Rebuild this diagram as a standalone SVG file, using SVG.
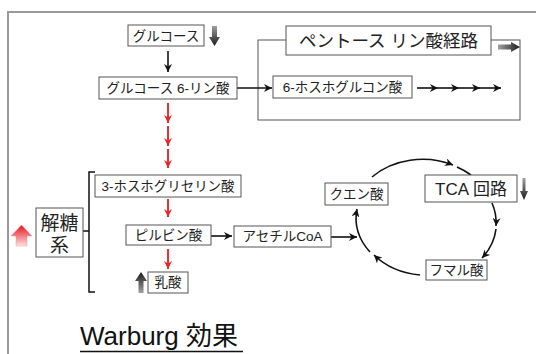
<svg xmlns="http://www.w3.org/2000/svg" width="536" height="354" viewBox="0 0 536 354">
<defs>
  <style>
    .box{fill:#fff;stroke:#555;stroke-width:1}
    .t{font-family:"Liberation Sans","Noto Sans CJK JP",sans-serif;font-size:13.5px;fill:#222;text-anchor:middle}
    .ln{fill:none;stroke:#111;stroke-width:1.6}
    .rd{fill:none;stroke:#e8262a;stroke-width:1.9}
  </style>
  <marker id="ab" viewBox="0 0 10 10" refX="10" refY="5" markerWidth="8" markerHeight="8" markerUnits="userSpaceOnUse" orient="auto">
    <path d="M0,0 L10,5 L0,10 L3,5 z" fill="#111"/>
  </marker>
  <marker id="ar" viewBox="0 0 10 10" refX="10" refY="5" markerWidth="8" markerHeight="8" markerUnits="userSpaceOnUse" orient="auto">
    <path d="M0,0 L10,5 L0,10 L3,5 z" fill="#e8262a"/>
  </marker>
  <linearGradient id="gDown" x1="0" y1="0" x2="0" y2="1">
    <stop offset="0" stop-color="#a0a0a0"/><stop offset="1" stop-color="#1a1a1a"/>
  </linearGradient>
  <linearGradient id="gUp" x1="0" y1="1" x2="0" y2="0">
    <stop offset="0" stop-color="#a0a0a0"/><stop offset="1" stop-color="#1a1a1a"/>
  </linearGradient>
  <linearGradient id="gRight" x1="0" y1="0" x2="1" y2="0">
    <stop offset="0" stop-color="#a0a0a0"/><stop offset="1" stop-color="#1a1a1a"/>
  </linearGradient>
  <linearGradient id="gRed" x1="0" y1="1" x2="0" y2="0">
    <stop offset="0" stop-color="#fde0e0"/><stop offset="1" stop-color="#e8101a"/>
  </linearGradient>
</defs>

<rect width="536" height="354" fill="#fff"/>
<path d="M8,354 V12 H536" fill="none" stroke="#999" stroke-width="2"/>

<g id="pentose-frame">
  <rect x="258" y="40" width="262" height="80" fill="none" stroke="#555" stroke-width="1"/>
</g>

<g id="connectors">
  <path class="ln" d="M168,51 V72" marker-end="url(#ab)"/>
  <path class="ln" d="M237,88 H272" marker-end="url(#ab)"/>
  <path class="ln" d="M417,88 H438" marker-end="url(#ab)"/>
  <path class="ln" d="M438,88 H459" marker-end="url(#ab)"/>
  <path class="ln" d="M459,88 H480" marker-end="url(#ab)"/>
  <path class="ln" d="M480,88 H501" marker-end="url(#ab)"/>
  <path class="rd" d="M168,103 V123" marker-end="url(#ar)"/>
  <path class="rd" d="M168,126 V146" marker-end="url(#ar)"/>
  <path class="rd" d="M168,149 V168" marker-end="url(#ar)"/>
  <path class="rd" d="M168,199 V217" marker-end="url(#ar)"/>
  <path class="rd" d="M168,249 V269" marker-end="url(#ar)"/>
  <path class="ln" d="M211,236 H232" marker-end="url(#ab)"/>
  <path class="ln" d="M331,237 H357" marker-end="url(#ab)"/>
  <path class="ln" d="M372,177 A70 57 0 0 1 453,165" marker-end="url(#ab)"/>
  <path class="ln" d="M457,167 A70 57 0 0 1 471,175"/>
  <path class="ln" d="M492,203 A70 57 0 0 1 496,226" marker-end="url(#ab)"/>
  <path class="ln" d="M496,229 A70 57 0 0 1 482,258" marker-end="url(#ab)"/>
  <path class="ln" d="M420,275 A70 57 0 0 1 374,255" marker-end="url(#ab)"/>
  <path class="ln" d="M370,252 A70 57 0 0 1 357,209" marker-end="url(#ab)"/>
  <path d="M95,172 H89 V292 H95 M89,231 H83" fill="none" stroke="#111" stroke-width="1.5"/>
</g>

<g id="glucose">
  <rect class="box" x="128" y="25" width="76" height="21"/>
  <text class="t" x="166" y="40.5">グルコース</text>
  <path d="M212,26 H217 V37 H220 L214.5,46 L209,37 H212 z" fill="url(#gDown)"/>
</g>

<g id="g6p">
  <rect class="box" x="99" y="77" width="138" height="22"/>
  <text class="t" x="168" y="93">グルコース 6-リン酸</text>
</g>

<g id="pentose-title">
  <rect class="box" x="286" y="26" width="205" height="29"/>
  <text class="t" x="388.5" y="47" style="font-size:17.5px">ペントース リン酸経路</text>
  <path d="M498,44.5 H511 V42 L520,47 L511,52 V49.5 H498 z" fill="url(#gRight)"/>
</g>

<g id="pg6">
  <rect class="box" x="273" y="76" width="139" height="22"/>
  <text class="t" x="342.5" y="92">6-ホスホグルコン酸</text>
</g>

<g id="pg3">
  <rect class="box" x="95" y="175" width="146" height="22"/>
  <text class="t" x="168" y="191" textLength="133" lengthAdjust="spacingAndGlyphs">3-ホスホグリセリン酸</text>
</g>

<g id="pyruvate">
  <rect class="box" x="126" y="225" width="85" height="20"/>
  <text class="t" x="168.5" y="240">ピルビン酸</text>
</g>

<g id="acetylcoa">
  <rect class="box" x="234" y="226" width="97" height="21"/>
  <text class="t" x="282.5" y="241">アセチルCoA</text>
</g>

<g id="lactate">
  <rect class="box" x="148" y="272" width="40" height="21"/>
  <text class="t" x="168" y="287">乳酸</text>
  <path d="M141,272 L147,281 H143.5 V293 H138.5 V281 H135 z" fill="url(#gUp)"/>
</g>

<g id="glycolysis">
  <rect class="box" x="36" y="208" width="47" height="49"/>
  <text class="t" x="59.5" y="230" style="font-size:19px">解糖</text>
  <text class="t" x="59.5" y="252" style="font-size:19px">系</text>
  <path d="M21.5,225 L32,236 H27 V246 H16 V236 H11 z" fill="url(#gRed)" stroke="#e8a0a0" stroke-width="0.5"/>
</g>

<g id="citrate">
  <rect class="box" x="325" y="183" width="63" height="22"/>
  <text class="t" x="356.5" y="199">クエン酸</text>
</g>

<g id="tca">
  <rect class="box" x="425" y="175" width="92" height="27"/>
  <text class="t" x="471" y="195" style="font-size:17px">TCA 回路</text>
  <path d="M522.5,178 H525.5 V191 H528 L524,200 L520,191 H522.5 z" fill="url(#gDown)"/>
</g>

<g id="fumarate">
  <rect class="box" x="426" y="260" width="61" height="20"/>
  <text class="t" x="456.5" y="275">フマル酸</text>
</g>

<g id="title">
  <text x="80" y="345" style="font-family:'Liberation Sans','Noto Sans CJK JP',sans-serif;font-size:26px;fill:#111">Warburg 効果</text>
  <path d="M80,351.5 H243" stroke="#111" stroke-width="1.3"/>
</g>
</svg>
